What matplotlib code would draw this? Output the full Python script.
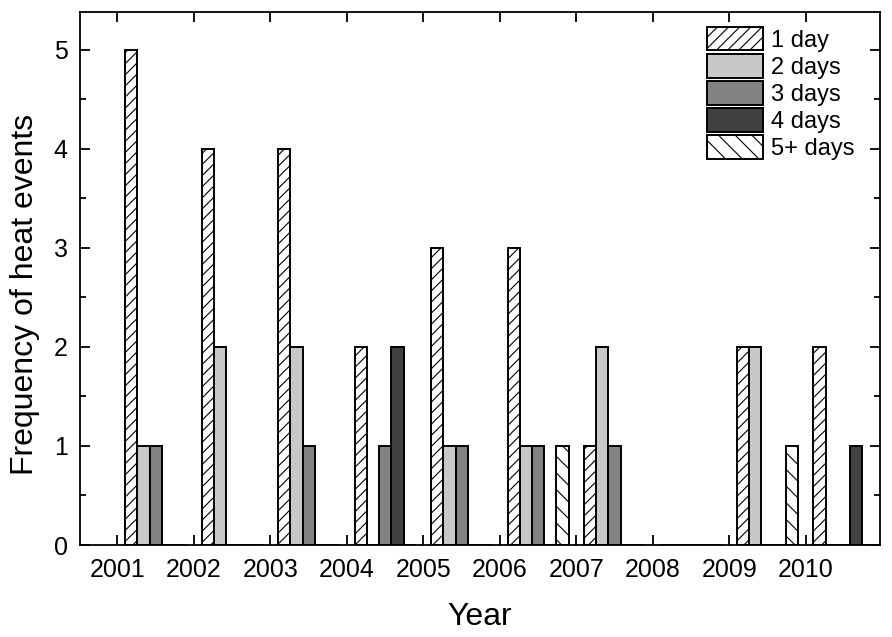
import numpy as np
from matplotlib import pyplot as plt
from matplotlib.ticker import MultipleLocator

plt.rcParams['font.family'] = ['Liberation Sans', 'DejaVu Sans']
plt.rcParams['hatch.linewidth'] = 0.8

years = [2001, 2002, 2003, 2004, 2005, 2006, 2007, 2008, 2009, 2010]
labels = ["1 day", "2 days", "3 days", "4 days", "5+ days"]

one_day = [5, 4, 4, 2, 3, 3, 1, 0, 2, 2]
two_days = [1, 2, 2, 0, 1, 1, 2, 0, 2, 0]
three_days = [1, 0, 1, 1, 1, 1, 1, 0, 0, 0]
four_days = [0, 0, 0, 2, 0, 0, 0, 0, 0, 1]
five_plus = [0, 0, 0, 0, 0, 1, 0, 0, 1, 0]

series = [one_day, two_days, three_days, four_days, five_plus]
colors = ["white", "#c8c8c8", "#828282", "#404040", "white"]
hatches = ["///", None, None, None, "\\\\"]

fig = plt.figure(figsize=(8.92, 6.37), dpi=100)
ax = fig.add_axes([0.0897, 0.1444, 0.8968, 0.8366])

x = np.array(years)
w = 0.16
for i, (vals, c, h, lab) in enumerate(zip(series, colors, hatches, labels)):
    ax.bar(x + 0.1 + i*w, vals, width=w, align='edge', color=c,
           edgecolor='black', linewidth=1.4, hatch=h, label=lab)

ax.set_xlim(2000.51, 2010.97)
ax.set_ylim(0, 5.38)
ax.set_xticks(years)
ax.set_xticklabels([str(y) for y in years])
ax.yaxis.set_major_locator(MultipleLocator(1))
ax.yaxis.set_minor_locator(MultipleLocator(0.5))
ax.tick_params(which='both', direction='in', top=True, right=True, width=1.3)
ax.tick_params(which='major', length=7.5, labelsize=18, pad=9)
ax.tick_params(which='minor', length=4.5)
for s in ax.spines.values():
    s.set_linewidth(1.3)

ax.set_xlabel("Year", fontsize=23, labelpad=15)
ax.set_ylabel("Frequency of heat events", fontsize=23)
ax.yaxis.set_label_coords(-0.05, 0.47)

ax.legend(loc='upper left', bbox_to_anchor=(0.784, 0.972), frameon=False,
          fontsize=17, handlelength=2.35, handleheight=1.15, handletextpad=0.35,
          labelspacing=0.1, borderaxespad=0.0, borderpad=0.0)

fig.savefig("out.png", dpi=100)
